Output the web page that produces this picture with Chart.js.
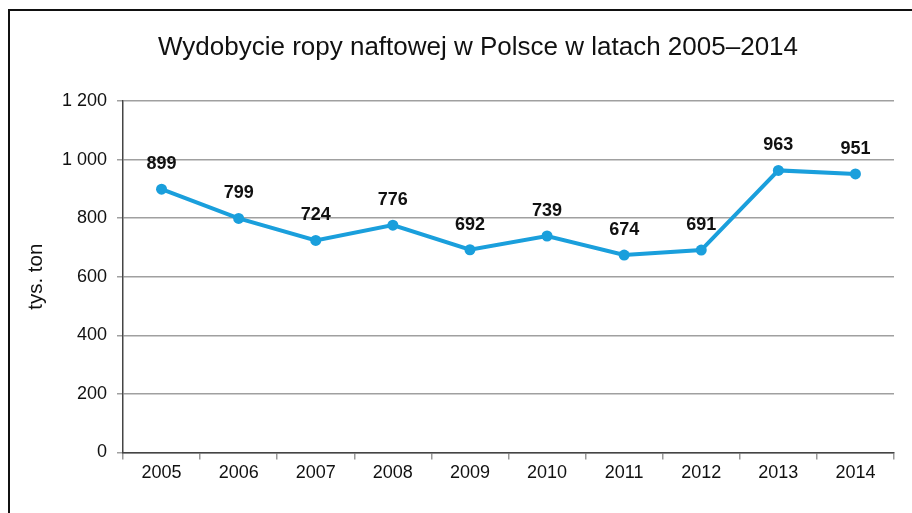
<!DOCTYPE html>
<html>
<head>
<meta charset="utf-8">
<script src="https://cdn.jsdelivr.net/npm/chart.js@4"></script>
<style>
  html, body { margin: 0; padding: 0; background: #fff; }
  #wrap { width: 912px; height: 513px; }
</style>
</head>
<body>
<div id="wrap"><canvas id="chart" width="912" height="513"></canvas></div>
<script>
const years = ['2005', '2006', '2007', '2008', '2009', '2010', '2011', '2012', '2013', '2014'];
const production = [899, 799, 724, 776, 692, 739, 674, 691, 963, 951];
const yTicks = [0, 200, 400, 600, 800, 1000, 1200];
const chartTitle = 'Wydobycie ropy naftowej w Polsce w latach 2005–2014';

const blue = '#1a9fdc';
const font = '"Liberation Sans", Arial, sans-serif';

// ramka po lewej i u góry + tytuł (przesunięty w prawo jak w oryginale)
const framePlugin = {
    id: 'frame',
    beforeDraw(chart) {
        const ctx = chart.ctx;
        ctx.save();
        ctx.strokeStyle = '#111';
        ctx.lineWidth = 2;
        ctx.beginPath();
        ctx.moveTo(9, 513);
        ctx.lineTo(9, 10);
        ctx.lineTo(912, 10);
        ctx.stroke();
        ctx.font = '26px ' + font;
        ctx.fillStyle = '#111';
        ctx.textAlign = 'center';
        ctx.textBaseline = 'alphabetic';
        ctx.fillText(chartTitle, 478, 55);
        ctx.restore();
    }
};

// etykiety wartości nad punktami
const labelPlugin = {
    id: 'valueLabels',
    afterDatasetsDraw(chart) {
        const ctx = chart.ctx;
        const meta = chart.getDatasetMeta(0);
        ctx.save();
        ctx.font = 'bold 18px ' + font;
        ctx.fillStyle = '#111';
        ctx.textAlign = 'center';
        ctx.textBaseline = 'middle';
        meta.data.forEach((pt, i) => {
            ctx.fillText(String(production[i]), pt.x, pt.y - 25);
        });
        ctx.restore();
    }
};

const ctx = document.getElementById('chart').getContext('2d');
new Chart(ctx, {
    type: 'line',
    data: {
        labels: years,
        datasets: [{
            data: production,
            borderColor: blue,
            backgroundColor: blue,
            borderWidth: 4,
            pointRadius: 5.5,
            pointBackgroundColor: blue,
            pointBorderWidth: 0,
            tension: 0
        }]
    },
    options: {
        responsive: false,
        animation: false,
        layout: { padding: { left: 0, right: 18, top: 101, bottom: 26 } },
        plugins: {
            legend: { display: false },
            tooltip: { enabled: false },
            title: { display: false }
        },
        scales: {
            x: {
                offset: true,
                grid: {
                    display: true,
                    offset: true,
                    drawOnChartArea: false,
                    tickLength: 7,
                    color: '#999',
                    lineWidth: 1.5
                },
                border: { color: '#444', width: 1.5 },
                ticks: { color: '#111', padding: 3, font: { family: font, size: 18 } }
            },
            y: {
                min: 0,
                max: 1200,
                afterBuildTicks: scale => { scale.ticks = yTicks.map(v => ({ value: v })); },
                afterFit: scale => { scale.width = 123; },
                grid: { color: '#a0a0a0', lineWidth: 1.5, tickLength: 6 },
                border: { color: '#444', width: 1.5 },
                ticks: {
                    color: '#111',
                    padding: 10,
                    font: { family: font, size: 18 },
                    callback: v => String(v).replace(/\B(?=(\d{3})+(?!\d))/g, ' ')
                },
                title: {
                    display: true,
                    text: 'tys. ton',
                    color: '#111',
                    font: { family: font, size: 20.5 },
                    padding: { top: 24, bottom: 0 }
                }
            }
        }
    },
    plugins: [framePlugin, labelPlugin]
});
</script>
</body>
</html>
